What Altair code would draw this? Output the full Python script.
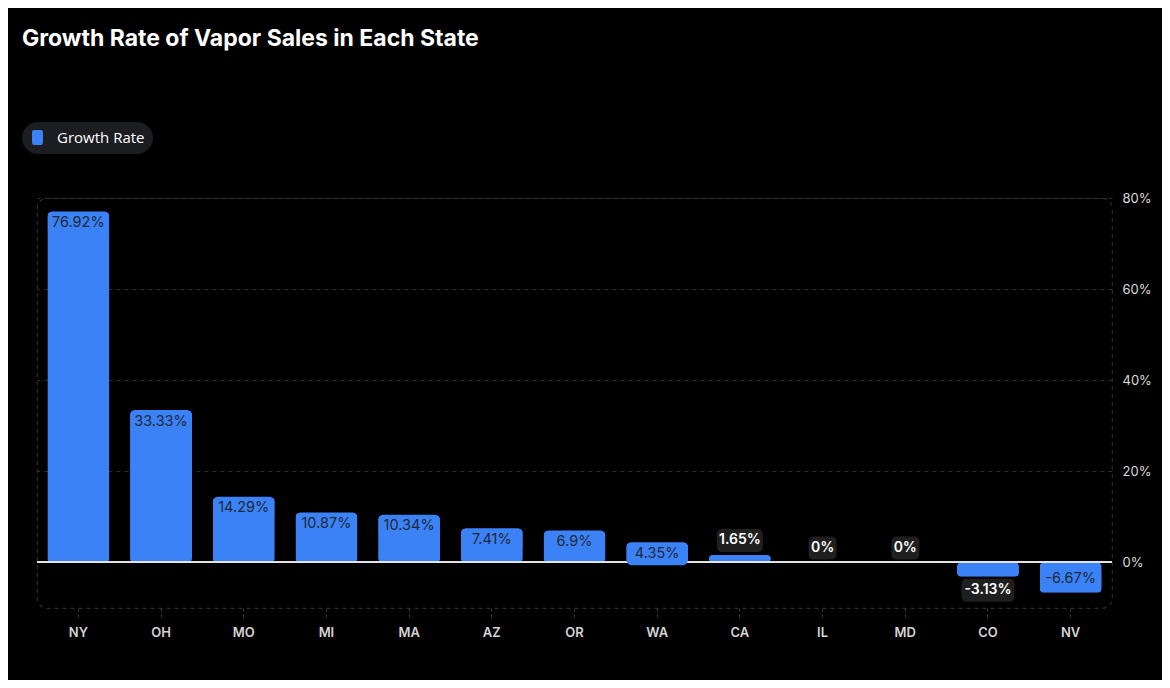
"""Growth rate of vapor sales per state, as a dark-theme bar chart in Altair."""

import pandas as pd
import altair as alt


STATES = ["NY", "OH", "MO", "MI", "MA", "AZ", "OR", "WA", "CA", "IL", "MD", "CO", "NV"]
GROWTH = [76.92, 33.33, 14.29, 10.87, 10.34, 7.41, 6.9, 4.35, 1.65, 0, 0, -3.13, -6.67]
SERIES = "Growth Rate"
Y_TICKS = [0, 20, 40, 60, 80]

BLUE = "#3b82f6"
FONT = "Inter"

# rounded, slightly tall legend swatch (custom symbols live in a [-1, 1] box)
SWATCH = (
    "M-0.45,-1H0.45Q0.73,-1,0.73,-0.7V0.7Q0.73,1,0.45,1H-0.45"
    "Q-0.73,1,-0.73,0.7V-0.7Q-0.73,-1,-0.45,-1Z"
)


def build_frame():
    df = pd.DataFrame({"state": STATES, "growth": GROWTH})
    df["series"] = SERIES
    df["label"] = [f"{v:g}%" for v in df["growth"]]
    # small bars get their label outside the bar, in a dark box
    df["inside"] = df["growth"].abs() >= 4
    df["positive"] = df["growth"] >= 0
    df["box_w"] = (df["label"].str.len() * 6.3 + 15).round().astype(int)
    return df


def create_chart(df):
    x = alt.X(
        "state:N",
        sort=STATES,
        title=None,
        scale=alt.Scale(paddingInner=0.25, paddingOuter=0.125),
        axis=alt.Axis(
            labelAngle=0,
            labelColor="#d4d4d4",
            labelFont=FONT,
            labelFontSize=13,
            labelFontWeight=600,
            labelPadding=9,
            ticks=True,
            tickColor="#3a3a3a",
            tickDash=[3, 3],
            tickSize=9,
            domain=False,
            grid=False,
        ),
    )
    y = alt.Y(
        "growth:Q",
        title=None,
        scale=alt.Scale(domain=[-10, 80], nice=False),
        axis=alt.Axis(
            orient="right",
            values=Y_TICKS,
            labelExpr="datum.value + '%'",
            labelColor="#dcdcdc",
            labelFont=FONT,
            labelFontSize=13,
            labelPadding=10,
            ticks=False,
            domain=False,
            grid=True,
            gridColor="#2e2e2e",
            gridDash=[4, 4],
        ),
    )

    base = alt.Chart(df)

    bars = base.mark_bar(cornerRadius=4).encode(
        x=x,
        y=y,
        color=alt.Color(
            "series:N",
            scale=alt.Scale(domain=[SERIES], range=[BLUE]),
            legend=alt.Legend(
                title=None,
                orient="none",
                legendX=-15,
                legendY=-76,
                fillColor="#1c1d21",
                cornerRadius=16,
                padding=8,
                symbolType=SWATCH,
                symbolSize=225,
                symbolStrokeWidth=0,
                labelColor="#ffffff",
                labelFont="Open Sans",
                labelFontSize=15,
                labelOffset=12,
            ),
        ),
    )

    zero = base.mark_rule(color="#e5e5e5", strokeWidth=1.2).encode(y=alt.datum(0))

    layers = [bars, zero]

    # label boxes + text, one layer pair per (placement, sign, width) group
    groups = df[["inside", "positive", "box_w"]].drop_duplicates().itertuples(index=False)
    for inside, positive, box_w in groups:
        cond = (
            f"datum.inside == {str(bool(inside)).lower()} && "
            f"datum.positive == {str(bool(positive)).lower()} && datum.box_w == {box_w}"
        )
        if inside:
            off = 11 if positive else -14
            box_color, width = BLUE, 61
            text_kw = dict(color="#1f2937", fontWeight=400, fontSize=14.5)
        else:
            off = -14.5 if positive else 13.5
            box_color, width = "#1f1f1f", int(box_w)
            text_kw = dict(color="#ffffff", fontWeight=600, fontSize=14)
        sub = base.transform_filter(cond)
        box = sub.mark_rect(
            width=width, height=23, cornerRadius=5, color=box_color, yOffset=off
        ).encode(x=alt.X("state:N", sort=STATES), y="growth:Q")
        text = sub.mark_text(
            font=FONT, baseline="middle", yOffset=off, **text_kw
        ).encode(x=alt.X("state:N", sort=STATES), y="growth:Q", text="label:N")
        layers += [box, text]

    chart = (
        alt.layer(*layers)
        .properties(
            width=1075,
            height=410,
            autosize=alt.AutoSizeParams(type="none"),
            padding={"left": 29, "top": 190, "right": 50, "bottom": 72},
            background="#000000",
            title=alt.TitleParams(
                "Growth Rate of Vapor Sales in Each State",
                anchor="start",
                frame="group",
                dx=-15,
                offset=71,
                font=FONT,
                fontSize=23,
                fontWeight=700,
                color="#ffffff",
            ),
        )
        .configure_view(
            stroke="#2e2e2e", strokeDash=[4, 4], strokeWidth=1.2, cornerRadius=10
        )
    )
    return chart


def main():
    df = build_frame()
    chart = create_chart(df)
    chart.save("out.html", embed_options={"renderer": "svg", "actions": False})


if __name__ == "__main__":
    main()
